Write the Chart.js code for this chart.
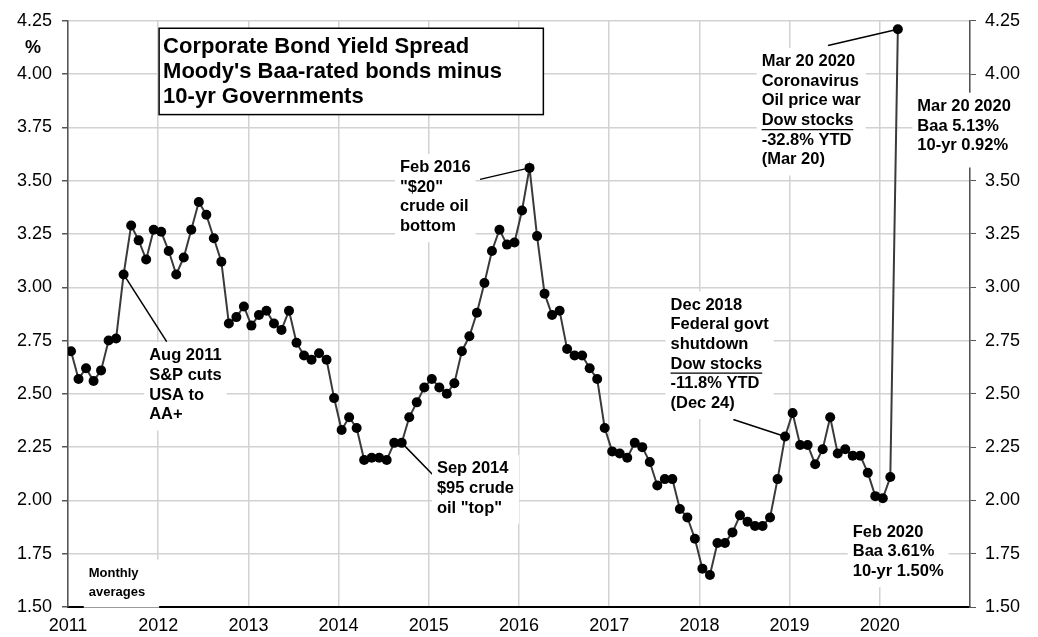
<!DOCTYPE html>
<html>
<head>
<meta charset="utf-8">
<title>Corporate Bond Yield Spread</title>
<script src="https://cdn.jsdelivr.net/npm/chart.js@4.4.1/dist/chart.umd.min.js"></script>
<style>
  body { margin: 0; background: #fff; }
  #wrap { width: 1038px; height: 637px; }
</style>
</head>
<body>
<div id="wrap"><canvas id="spreadChart" width="1038" height="637"></canvas></div>
<script>
'use strict';

// Baa minus 10-yr Treasury, monthly averages (last value = Mar 20 2020)
const firstYear = 2011;
const spread2011 = [2.70, 2.57, 2.62, 2.56, 2.61, 2.75, 2.76, 3.06, 3.29, 3.22, 3.13, 3.27];
const spread2012 = [3.26, 3.17, 3.06, 3.14, 3.27, 3.40, 3.34, 3.23, 3.12, 2.83, 2.86, 2.91];
const spread2013 = [2.82, 2.87, 2.89, 2.83, 2.80, 2.89, 2.74, 2.68, 2.66, 2.69, 2.66, 2.48];
const spread2014 = [2.33, 2.39, 2.34, 2.19, 2.20, 2.20, 2.19, 2.27, 2.27, 2.39, 2.46, 2.53];
const spread2015 = [2.57, 2.53, 2.50, 2.55, 2.70, 2.77, 2.88, 3.02, 3.17, 3.27, 3.20, 3.21];
const spread2016 = [3.36, 3.56, 3.24, 2.97, 2.87, 2.89, 2.71, 2.68, 2.68, 2.62, 2.57, 2.34];
const spread2017 = [2.23, 2.22, 2.20, 2.27, 2.25, 2.18, 2.07, 2.10, 2.10, 1.96, 1.92, 1.82];
const spread2018 = [1.68, 1.65, 1.80, 1.80, 1.85, 1.93, 1.90, 1.88, 1.88, 1.92, 2.10, 2.30];
const spread2019 = [2.41, 2.26, 2.26, 2.17, 2.24, 2.39, 2.22, 2.24, 2.21, 2.21, 2.13, 2.02];
const spread2020 = [2.01, 2.11, 4.21];

const yearTicks = ['2011', '2012', '2013', '2014', '2015', '2016', '2017', '2018', '2019', '2020'];
const yMin = 1.5;
const yMax = 4.25;
const yStep = 0.25;

const titleLines = ['Corporate Bond Yield Spread', "Moody's Baa-rated bonds minus", '10-yr Governments'];

// index of a month in the series
function monthIndex(year, month) {
  return (year - firstYear) * 12 + (month - 1);
}

// Annotations, anchored in data units ('_' = underlined line)
const notes = [
  { lines: ['Aug 2011', 'S&P cuts', 'USA to', 'AA+'], x: 2011.90, y: 2.678, point: monthIndex(2011, 8), from: [2012.094, 2.745] },
  { lines: ['Sep 2014', '$95 crude', 'oil "top"'], x: 2015.09, y: 2.148, point: monthIndex(2014, 9), from: [2015.08, 2.105] },
  { lines: ['Feb 2016', '"$20"', 'crude oil', 'bottom'], x: 2014.68, y: 3.561, point: monthIndex(2016, 2), from: [2015.568, 3.506] },
  { lines: ['Dec 2018', 'Federal govt', 'shutdown', '_Dow stocks', '-11.8% YTD', '(Dec 24)'], x: 2017.68, y: 2.916, point: monthIndex(2018, 12), from: [2018.376, 2.380] },
  { lines: ['Mar 20 2020', 'Coronavirus', 'Oil price war', '_Dow stocks', '-32.8% YTD', '(Mar 20)'], x: 2018.69, y: 4.058, point: monthIndex(2020, 3), from: [2019.426, 4.134] },
  { lines: ['Mar 20 2020', 'Baa 5.13%', '10-yr 0.92%'], x: 2020.416, y: 3.848, padRight: 22, padBottom: 12 },
  { lines: ['Feb 2020', 'Baa 3.61%', '10-yr 1.50%'], x: 2019.70, y: 1.851, padTop: 16 },
  { lines: ['Monthly', 'averages'], x: 2011.23, y: 1.659, size: 13, lineHeight: 19, padRight: 14 }
];

const fontFamily = '"Liberation Sans", Arial, Helvetica, sans-serif';

const spread = [].concat(spread2011, spread2012, spread2013, spread2014, spread2015,
  spread2016, spread2017, spread2018, spread2019, spread2020);
const points = spread.map((v, i) => ({ x: firstYear + (i + 0.4) / 12, y: v }));

const notesPlugin = {
  id: 'notes',
  afterDatasetsDraw(chart) {
    const ctx = chart.ctx;
    const xs = chart.scales.x;
    const ys = chart.scales.y;
    const meta = chart.getDatasetMeta(0);
    ctx.save();

    // leader lines
    ctx.strokeStyle = '#000';
    ctx.lineWidth = 1.5;
    for (let n of notes) {
      if (n.point === undefined) continue;
      const pt = meta.data[n.point];
      ctx.beginPath();
      ctx.moveTo(xs.getPixelForValue(n.from[0]), ys.getPixelForValue(n.from[1]));
      ctx.lineTo(pt.x, pt.y);
      ctx.stroke();
    }

    // text boxes
    ctx.textBaseline = 'middle';
    ctx.textAlign = 'left';
    for (let n of notes) {
      const size = n.size || 16.5;
      const lh = n.lineHeight || 19.6;
      const padTop = n.padTop || 4;
      const padBottom = n.padBottom || 6;
      const padRight = n.padRight || 5;
      ctx.font = 'bold ' + size + 'px ' + fontFamily;
      const left = xs.getPixelForValue(n.x);
      const first = ys.getPixelForValue(n.y);
      let w = 0;
      for (let t of n.lines) {
        w = Math.max(w, ctx.measureText(t.replace(/^_/, '')).width);
      }
      const top = first - lh / 2 - padTop;
      ctx.fillStyle = '#fff';
      ctx.fillRect(left - 5, top, w + 5 + padRight, lh * n.lines.length + padTop + padBottom);
      ctx.fillStyle = '#000';
      n.lines.forEach((t, i) => {
        const y = first + i * lh;
        const txt = t.replace(/^_/, '');
        ctx.fillText(txt, left, y);
        if (t[0] === '_') {
          const tw = ctx.measureText(txt).width;
          ctx.beginPath();
          ctx.moveTo(left, y + size * 0.55);
          ctx.lineTo(left + tw, y + size * 0.55);
          ctx.lineWidth = 1.3;
          ctx.stroke();
        }
      });
    }

    // title box
    const bx = xs.getPixelForValue(2012.01);
    const by = ys.getPixelForValue(4.215);
    const bw = xs.getPixelForValue(2016.27) - bx;
    const bh = ys.getPixelForValue(3.81) - by;
    ctx.fillStyle = '#fff';
    ctx.fillRect(bx, by, bw, bh);
    ctx.strokeStyle = '#000';
    ctx.lineWidth = 1.5;
    ctx.strokeRect(bx, by, bw, bh);
    ctx.fillStyle = '#000';
    ctx.font = 'bold 22px ' + fontFamily;
    titleLines.forEach((t, i) => {
      ctx.fillText(t, bx + 4, by + 19 + i * 25);
    });

    // unit label
    ctx.font = 'bold 18px ' + fontFamily;
    ctx.textAlign = 'center';
    ctx.fillText('%', chart.chartArea.left - 35, ys.getPixelForValue(yMax) + 27);
    ctx.restore();
  }
};

const ctx = document.getElementById('spreadChart').getContext('2d');

const spreadChart = new Chart(ctx, {
  type: 'line',
  data: {
    datasets: [{
      label: 'Baa minus 10-yr',
      data: points,
      borderColor: '#3a3a3a',
      borderWidth: 2,
      pointRadius: 5,
      pointBackgroundColor: '#000',
      pointBorderColor: '#000',
      pointBorderWidth: 0,
      tension: 0,
      yAxisID: 'y'
    }]
  },
  options: {
    responsive: false,
    animation: false,
    devicePixelRatio: 1,
    layout: { padding: { top: 17, left: 0, right: 0, bottom: 0 } },
    plugins: {
      legend: { display: false },
      tooltip: { enabled: false }
    },
    scales: {
      x: {
        type: 'linear',
        min: firstYear,
        max: firstYear + yearTicks.length,
        afterFit: (scale) => { scale.height = 30; },
        grid: { color: '#d2d2d2', lineWidth: 1.5, drawTicks: false },
        border: { color: '#000', width: 2 },
        ticks: {
          stepSize: 1,
          autoSkip: false,
          maxRotation: 0,
          padding: 8,
          color: '#000',
          font: { family: fontFamily, size: 18 },
          callback: (v) => yearTicks[v - firstYear] || ''
        }
      },
      y: {
        position: 'left',
        min: yMin,
        max: yMax,
        afterFit: (scale) => { scale.width = 68; },
        grid: {
          color: (c) => (c.tick && c.tick.value === yMin) ? 'rgba(0,0,0,0)' : '#d2d2d2',
          lineWidth: 1.5,
          tickLength: 6,
          tickColor: '#555'
        },
        border: { color: '#555', width: 1.5 },
        ticks: {
          stepSize: yStep,
          padding: 10,
          color: '#000',
          font: { family: fontFamily, size: 18 },
          callback: (v) => v.toFixed(2)
        }
      },
      y2: {
        position: 'right',
        min: yMin,
        max: yMax,
        afterFit: (scale) => { scale.width = 68; },
        grid: { drawOnChartArea: false, tickLength: 6, tickColor: '#555' },
        border: { color: '#555', width: 1.5 },
        ticks: {
          stepSize: yStep,
          padding: 9,
          color: '#000',
          font: { family: fontFamily, size: 18 },
          callback: (v) => v.toFixed(2)
        }
      }
    }
  },
  plugins: [notesPlugin]
});
</script>
</body>
</html>
